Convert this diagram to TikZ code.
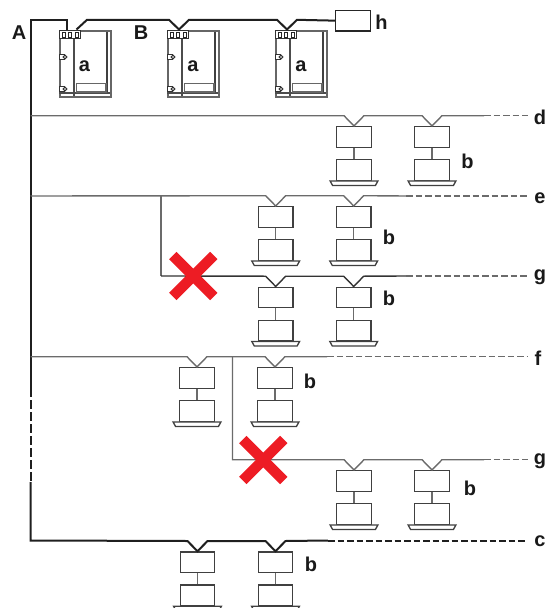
\documentclass[tikz,border=0pt]{standalone}
\usepackage{fontspec}
\setmainfont{Liberation Sans}
\definecolor{crossred}{RGB}{237,28,36}
\tikzset{
  lbl/.style={font=\fontsize{20}{20}\selectfont\bfseries,text=black!90,inner sep=0pt},
  ubox/.style={draw=black!75,line width=1.4pt,fill=white,inner sep=0pt,minimum width=34.5pt,minimum height=20.5pt},
  hbox/.style={draw=black!85,line width=1.4pt,fill=white,inner sep=0pt,minimum width=35pt,minimum height=20.5pt},
  thinw/.style={draw=black!58,line width=1.4pt},
  darkw/.style={draw=black!80,line width=1.4pt},
  thickw/.style={draw=black!88,line width=2pt},
  dashw/.style={dash pattern=on 6.5pt off 3pt},
  vdash/.style={dash pattern=on 9pt off 3pt},
  stem/.style={draw=black!58,line width=1.4pt},
  cross/.style={draw=crossred,line width=10.4pt},
  unitline/.style={draw=black!75,line width=1.3pt},
  unitthick/.style={draw=black!70,line width=1.8pt}
}
% indoor unit: name, centre x, top y
\newcommand{\indoor}[3]{%
  \node[ubox,anchor=north] (#1) at (#2,#3) {};
  \node[ubox,anchor=north] (#1low) at (#2,#3+33) {};
  \draw[stem] (#1.south) -- (#1low.north);
  \draw[unitline,fill=white] ([xshift=-6pt]#1low.south west) -- ([xshift=6pt]#1low.south east) -- ([xshift=3.5pt,yshift=-4.5pt]#1low.south east) -- ([xshift=-3.5pt,yshift=-4.5pt]#1low.south west) -- cycle;
  \coordinate (#1l) at (#2-10,#3-10.3);
  \coordinate (#1r) at (#2+10,#3-10.3);
}
% outdoor unit: name, left x
\newcommand{\outdoor}[2]{%
  \begin{scope}[shift={(#2,30)}]
    \node[draw=black!60,line width=1.6pt,minimum width=51pt,minimum height=66pt,inner sep=0pt,anchor=north west] (#1) at (0,0) {};
    \draw[unitline] (48,2) -- (48,63);
    \draw[unitthick] (15,0) -- (15,66);
    \draw[unitthick] (0,63) -- (51,63);
    \draw[draw=black!60,line width=1.1pt] (17.5,53.5) rectangle (47,62);
    \node[draw=black!80,line width=1pt,fill=white,minimum width=21pt,minimum height=8pt,inner sep=0pt,anchor=north west] (#1p) at (0,0) {};
    \foreach \xx in {5,11.3,17.6}{\draw[draw=black!85,line width=1pt,fill=white] (\xx-1.5,2) rectangle (\xx+1.5,7);}
    \foreach \yy in {27,59}{\draw[draw=black!80,line width=1pt,fill=white] (0,\yy-2.5) rectangle (5,\yy+2.5);
      \draw[draw=black!80,line width=1pt,fill=white] (6,\yy) circle (1.8);}
  \end{scope}
}
\begin{document}
\begin{tikzpicture}[x=1pt,y=-1pt]
\useasboundingbox (0,0) rectangle (545,608);
\clip (0,0) rectangle (545,608);

% outdoor units
\outdoor{oa}{59}
\outdoor{ob}{167}
\outdoor{oc}{275}
\node[hbox,anchor=north west] (hb) at (335,9.7) {};

% indoor units
\indoor{da}{354}{126}
\indoor{db}{432}{126}
\indoor{ea}{275.7}{206}
\indoor{eb}{353.7}{206}
\indoor{ga}{275.7}{286.5}
\indoor{gb}{353.7}{286.5}
\indoor{fa}{197}{367}
\indoor{fb}{275}{367}
\indoor{ha}{354}{470}
\indoor{hb2}{432}{470}
\indoor{ca}{197.5}{551.3}
\indoor{cb}{275.5}{551.3}

% named junctions
\coordinate (Atop) at (30.5,19.8);
\coordinate (Acorner) at (66.7,19.8);
\coordinate (Adrop) at (66.7,30);
\coordinate (Abot) at (30.5,540.5);
\coordinate (Dash1) at (30.5,388);
\coordinate (Dash2) at (30.5,482);
\coordinate (dS) at (30.5,115.7);
\coordinate (eS) at (30.5,196);
\coordinate (fS) at (30.5,356.7);
\coordinate (eJ) at (161,196);
\coordinate (gJ) at (161,276);
\coordinate (fJ) at (232.5,356.7);
\coordinate (hJ) at (232.5,459.7);
\coordinate (dE) at (484,115.7);
\coordinate (eE) at (406,196);
\coordinate (gE) at (406,276);
\coordinate (fE) at (327,356.7);
\coordinate (hE) at (484,459.7);
\coordinate (cE) at (328,540.5);
\coordinate (dL) at (528,115.7);
\coordinate (eL) at (528,196);
\coordinate (gL) at (528,276);
\coordinate (fL) at (527,356.7);
\coordinate (hL) at (528,459.7);
\coordinate (cL) at (527,540.5);

% main trunk
\draw[thickw] (Adrop) -- (Acorner) -- (Atop) -- (Dash1);
\draw[thickw,vdash] (Dash1) -- (Dash2);
\draw[thickw] (Dash2) -- (Abot) -- (cal) -- (ca.north) -- (car) -- (cbl) -- (cb.north) -- (cbr) -- (cE);
\draw[thickw,dashw] (cE) -- (cL);

% B line
\draw[thickw] (76.5,29.5) -- (87,19.8) -- (169,19.8) -- (179,29.5) -- (189,19.8) -- (277,19.8) -- (287,29.5) -- (297,19.8) -- (hb.west);

% branches
\draw[thinw] (dS) -- (dal) -- (da.north) -- (dar) -- (dbl) -- (db.north) -- (dbr) -- (dE);
\draw[thinw,dashw] (dE) -- (dL);
\draw[thinw] (eS) -- (eal) -- (ea.north) -- (ear) -- (ebl) -- (eb.north) -- (ebr) -- (eE);
\draw[thinw,dashw] (eE) -- (eL);
\draw[thinw] (eJ) -- (gJ);
\draw[darkw] (gJ) -- (gal) -- (ga.north) -- (gar) -- (gbl) -- (gb.north) -- (gbr) -- (gE);
\draw[thinw,dashw] (gE) -- (gL);
\draw[thinw] (fS) -- (fal) -- (fa.north) -- (far) -- (fbl) -- (fb.north) -- (fbr) -- (fE);
\draw[thinw,dashw] (fE) -- (fL);
\draw[thinw] (fJ) -- (hJ) -- (hal) -- (ha.north) -- (har) -- (hb2l) -- (hb2.north) -- (hb2r) -- (hE);
\draw[thinw,dashw] (hE) -- (hL);

% red crosses
\foreach \cx/\cy in {193.3/276,263.3/460}{
  \draw[cross] (\cx-20.5,\cy-20.5) -- (\cx+20.5,\cy+20.5);
  \draw[cross] (\cx-20.5,\cy+20.5) -- (\cx+20.5,\cy-20.5);
}

% labels
\node[lbl] (tA) at (19,33) {A};
\node[lbl] (tB) at (141,32.5) {B};
\node[lbl] (ta1) at (84.5,66) {a};
\node[lbl] (ta2) at (193,66) {a};
\node[lbl] (ta3) at (301,66) {a};
\node[lbl] (th) at (381.5,22) {h};
\node[lbl] (td) at (540,117) {d};
\node[lbl] (tb1) at (467.5,161) {b};
\node[lbl] (te) at (540,198) {e};
\node[lbl] (tb2) at (389,237) {b};
\node[lbl] (tg1) at (540,277) {g};
\node[lbl] (tb3) at (389,298) {b};
\node[lbl] (tf) at (538,358) {f};
\node[lbl] (tb4) at (310,381) {b};
\node[lbl] (tg2) at (540,461) {g};
\node[lbl] (tb5) at (470,488) {b};
\node[lbl] (tc) at (540,541) {c};
\node[lbl] (tb6) at (311,564) {b};
\end{tikzpicture}
\end{document}
